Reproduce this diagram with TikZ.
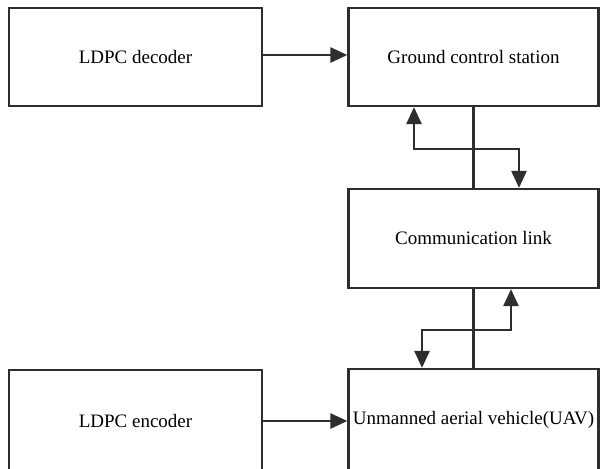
\documentclass[tikz,border=0pt]{standalone}
\usepackage{fontspec}
\setmainfont{Liberation Serif}
\usetikzlibrary{calc, arrows.meta, positioning}
\definecolor{linegray}{HTML}{2E2E2E}

\begin{document}
\begin{tikzpicture}[x=0.5pt, y=-0.5pt,
    >={Triangle[width=7.5pt, length=8.5pt]},
    block/.style={draw=linegray, line width=1.1pt, minimum width=125pt, minimum height=49pt, inner sep=0pt, font=\fontsize{9.5}{11}\selectfont},
    arr/.style={->, draw=linegray, line width=1.3pt},
    dblarr/.style={<->, draw=linegray, line width=1.3pt},
    link/.style={draw=linegray, line width=1.1pt}]
    % Frame
    \useasboundingbox (0,0) rectangle (600,469);
    \clip (0,0) rectangle (600,469);

    % Blocks
    \node[block, minimum width=126.5pt] (dec) at (135.5,57) {LDPC decoder};
    \node[block] (gcs) at (473.5,57) {Ground control station};
    \node[block, minimum height=49.5pt] (comm) at (473.5,238.5) {Communication link};
    \node[block, minimum width=126.5pt, minimum height=51pt] (enc) at (135.5,421) {LDPC encoder};
    \node[block, minimum height=51pt] (uav) at (473.5,420) {Unmanned aerial vehicle(UAV)};

    % Data flow
    \draw[arr] (dec.east |- 0,55) -- (gcs.west |- 0,55);
    \draw[arr] (enc.east |- 0,421) -- (uav.west |- 0,421);

    % Links
    \draw[link] (gcs.south) -- (comm.north);
    \draw[dblarr] ($(gcs.south)+(-59.5,0)$) -- ++(0,42) -| ($(comm.north)+(45.5,0)$);
    \draw[link] (comm.south) -- (uav.north);
    \draw[dblarr] ($(comm.south)+(37.5,0)$) -- ++(0,41) -| ($(uav.north)+(-51.5,0)$);
\end{tikzpicture}
\end{document}
